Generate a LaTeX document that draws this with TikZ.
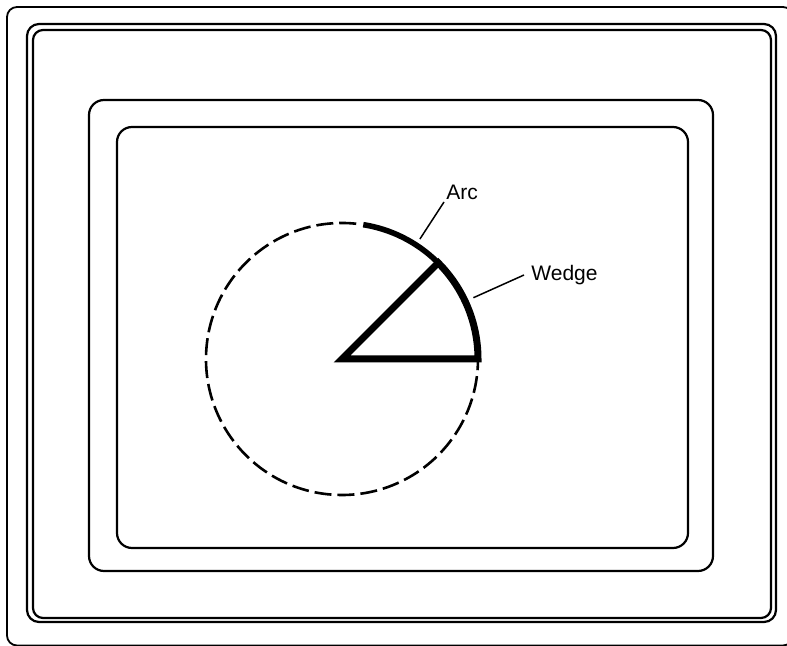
\documentclass[tikz,border=0pt]{standalone}
\usepackage{fontspec}
\setmainfont{Liberation Sans}
\begin{document}
\begin{tikzpicture}[x=0.5pt, y=-0.5pt,
  frame/.style={line width=1.1pt, rounded corners=#1},
  frame/.default=5pt,
  wedge/.style={line width=3.5pt},
  thickarc/.style={line width=2.8pt},
  dashline/.style={line width=1.3pt, dash pattern=on 8.5pt off 3pt},
  leader/.style={line width=0.75pt},
  lbl/.style={font=\fontsize{10.5}{12}\selectfont, inner sep=1pt}]
  \useasboundingbox (0,0) rectangle (787,646);

  % screen frames
  \draw[frame, line width=0.9pt] (7,7) rectangle (793,645.5);
  \draw[frame=6pt] (27,24) rectangle (776,622);
  \draw[frame] (33,30) rectangle (771,618);
  \draw[frame=7.5pt] (89,100) rectangle (713,571);
  \draw[frame=7.5pt] (117,127) rectangle (688,548);

  % circle, wedge and arc
  \begin{scope}[shift={(342,359)}, yscale=-1]
    \coordinate (O) at (0,0);
    \draw[wedge] (O) -- (0:136) arc[start angle=0, end angle=45, radius=136] -- cycle;
    \draw[thickarc] (46:136) arc[start angle=46, end angle=81, radius=136];
    \draw[dashline] (84:136) arc[start angle=84, end angle=360, radius=136];
    \coordinate (arctip) at (57:143);
    \coordinate (wedgetip) at (25:145);
  \end{scope}

  \node[lbl, anchor=south west] (arclbl) at (444,202) {Arc};
  \node[lbl, anchor=west, inner xsep=3.5pt] (wedgelbl) at (524,275) {Wedge};
  \draw[leader] (arclbl.south west) -- (arctip);
  \draw[leader] (wedgelbl.west) -- (wedgetip);
\end{tikzpicture}
\end{document}
